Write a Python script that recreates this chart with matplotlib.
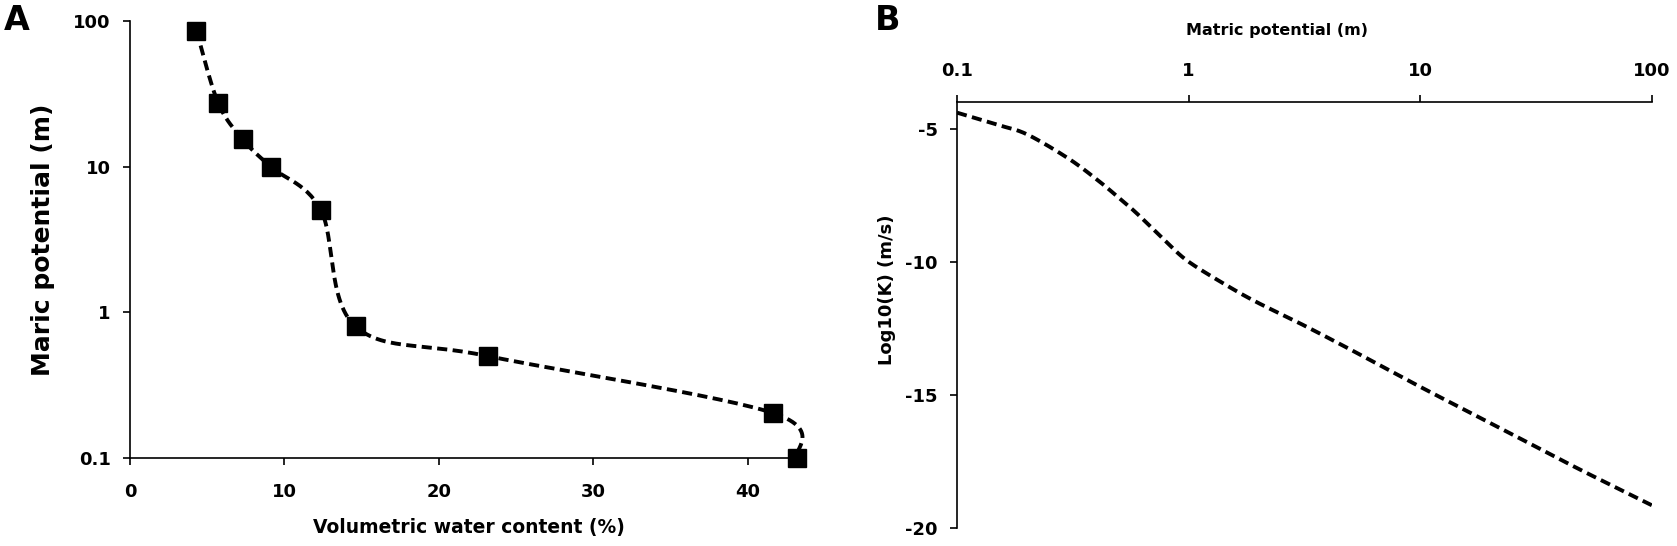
import numpy as np
import matplotlib
matplotlib.use("Agg")
import matplotlib.pyplot as plt

# ---------------- data ----------------
# Panel A: water retention curve
theta_pct = [4.3, 5.7, 7.3, 9.1, 12.35, 14.6, 23.2, 41.6, 43.15]
psi_a = [86, 27.5, 15.4, 10, 5.05, 0.80, 0.50, 0.204, 0.10]

# Panel B: hydraulic conductivity curve
psi_b = [0.1, 0.15, 0.2, 0.3, 0.4, 0.5, 0.6, 0.8, 1, 1.5, 2, 3, 5, 10, 20, 30, 50, 100]
logk_b = [-4.4, -4.86, -5.21, -6.1, -6.9, -7.6, -8.2, -9.25, -10.0, -10.95,
          -11.55, -12.3, -13.3, -14.7, -16.05, -16.85, -17.85, -19.15]

a_xticks = [0, 10, 20, 30, 40]
a_yticks = [0.1, 1, 10, 100]
a_yticklabels = ["0.1", "1", "10", "100"]
b_xticks = [0.1, 1, 10, 100]
b_xticklabels = ["0.1", "1", "10", "100"]
b_yticks = [-5, -10, -15, -20]


def catmull_rom(px, py, n=30):
    px = np.asarray(px, float)
    py = np.asarray(py, float)
    P = np.column_stack([px, py])
    P = np.vstack([P[0], P, P[-1]])
    out = []
    t = np.linspace(0, 1, n)[:, None]
    for i in range(1, len(P) - 2):
        p0, p1, p2, p3 = P[i - 1], P[i], P[i + 1], P[i + 2]
        c1 = p1 + (p2 - p0) / 6.0
        c2 = p2 - (p3 - p1) / 6.0
        seg = ((1 - t) ** 3) * p1 + 3 * ((1 - t) ** 2) * t * c1 + 3 * (1 - t) * t ** 2 * c2 + t ** 3 * p2
        out.append(seg if i == 1 else seg[1:])
    out = np.vstack(out)
    return out[:, 0], out[:, 1]


plt.rcParams["font.family"] = "DejaVu Sans"
plt.rcParams["font.weight"] = "bold"

W, H = 1677, 546
fig = plt.figure(figsize=(W / 100, H / 100), dpi=100)

def frac(l, t, r, b):
    return [l / W, 1 - b / H, (r - l) / W, (b - t) / H]

dash = (0, (2.6, 1.4))
LW = 2.8

# ---------------- Panel A ----------------
axA = fig.add_axes(frac(130, 21, 802, 458))
sx, sy = catmull_rom(theta_pct, np.log10(psi_a))
axA.plot(sx, 10 ** sy, color="black", lw=LW, linestyle=dash, clip_on=False)
axA.plot(theta_pct, psi_a, linestyle="none", marker="s", ms=12.5, color="black", clip_on=False, zorder=5)
axA.set_yscale("log")
axA.set_xlim(0, 43.5)
axA.set_ylim(0.1, 100)
axA.set_xticks(a_xticks)
axA.set_xticklabels([str(v) for v in a_xticks])
axA.set_yticks(a_yticks)
axA.set_yticklabels(a_yticklabels)
axA.yaxis.set_minor_locator(matplotlib.ticker.NullLocator())
for s in ["top", "right"]:
    axA.spines[s].set_visible(False)
for s in ["left", "bottom"]:
    axA.spines[s].set_linewidth(1.2)
axA.tick_params(axis="x", direction="out", length=5, width=1.2, pad=13, labelsize=13)
axA.tick_params(axis="y", direction="out", length=5, width=1.2, pad=9, labelsize=13)
axA.set_xlabel("Volumetric water content (%)", fontsize=13.5, fontweight="bold")
axA.xaxis.label.set_va("center")
axA.xaxis.set_label_coords(0.505, (458 - 528) / 437)
axA.set_ylabel("Maric potential (m)", fontsize=18, fontweight="bold")
axA.yaxis.label.set_va("center")
axA.yaxis.set_label_coords((43 - 130) / 672, 0.5)

# ---------------- Panel B ----------------
axB = fig.add_axes(frac(957, 102, 1652, 528))
bx, by = catmull_rom(np.log10(psi_b), logk_b)
axB.plot(10 ** bx, by, color="black", lw=LW, linestyle=dash)
axB.set_xscale("log")
axB.set_xlim(0.1, 100)
axB.set_ylim(-20, -4)
axB.xaxis.tick_top()
axB.xaxis.set_label_position("top")
axB.set_xticks(b_xticks)
axB.set_xticklabels(b_xticklabels)
axB.xaxis.set_minor_locator(matplotlib.ticker.NullLocator())
axB.set_yticks(b_yticks)
axB.set_yticklabels([str(v) for v in b_yticks])
for s in ["bottom", "right"]:
    axB.spines[s].set_visible(False)
for s in ["left", "top"]:
    axB.spines[s].set_linewidth(1.2)
axB.tick_params(axis="x", direction="out", length=5, width=1.2, pad=11, labelsize=13)
axB.tick_params(axis="y", direction="out", length=5, width=1.2, pad=9, labelsize=13)
axB.set_xlabel("Matric potential (m)", fontsize=11.5, fontweight="bold")
axB.xaxis.label.set_va("center")
axB.xaxis.set_label_coords((1277 - 957) / 695, (528 - 30) / 426)
axB.set_ylabel("Log10(K) (m/s)", fontsize=13, fontweight="bold")
axB.yaxis.label.set_va("center")
axB.yaxis.set_label_coords((887 - 957) / 695, (528 - 290) / 426)

# Panel letters
fig.text(17 / W, 1 - 20 / H, "A", fontsize=24, fontweight="bold", ha="center", va="center")
fig.text(888 / W, 1 - 20 / H, "B", fontsize=24, fontweight="bold", ha="center", va="center")

fig.savefig("out.png", dpi=100)
